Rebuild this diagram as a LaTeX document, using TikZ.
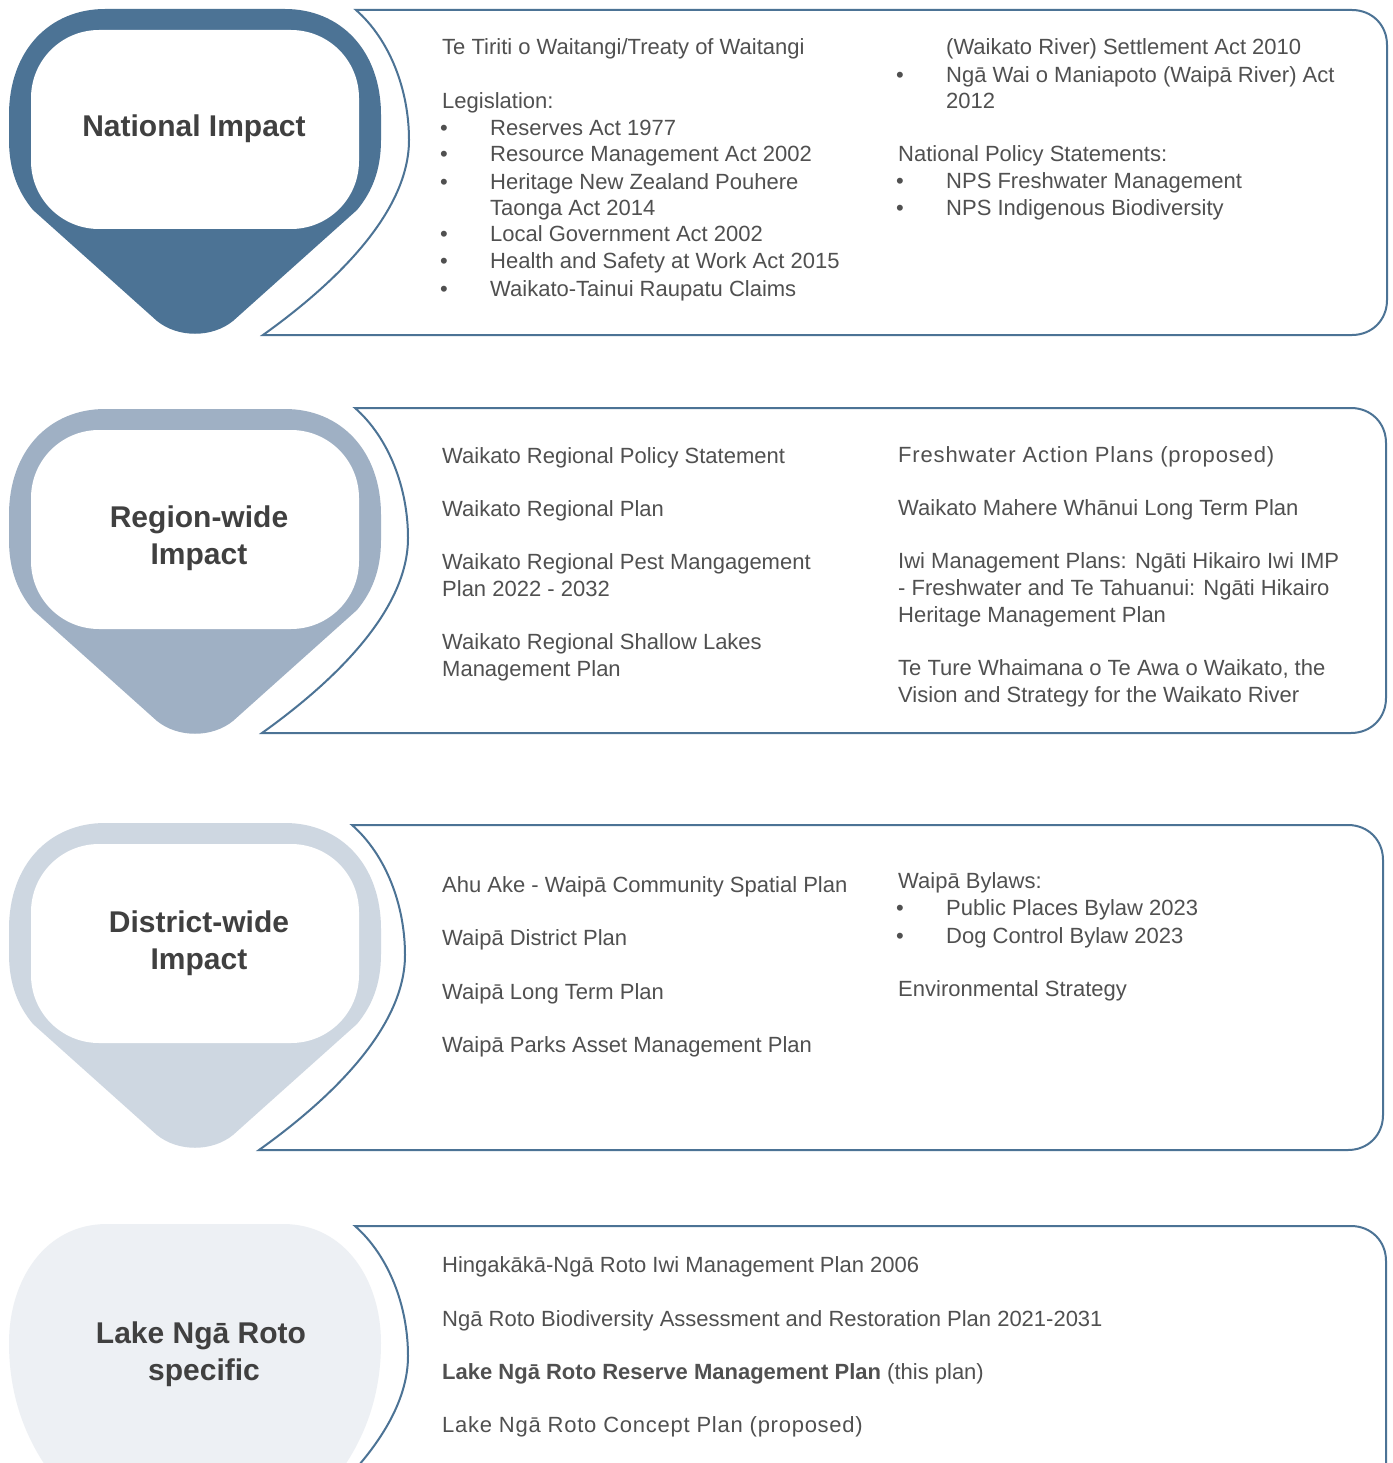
\documentclass[tikz,border=0pt]{standalone}
\usepackage{fontspec}
\setmainfont{Liberation Sans}
\definecolor{cA}{HTML}{4C7395}
\definecolor{cB}{HTML}{9FB0C4}
\definecolor{cC}{HTML}{CED7E1}
\definecolor{cD}{HTML}{EDF0F4}
\definecolor{txt}{HTML}{505050}
\definecolor{ttl}{HTML}{404040}
\newcommand\badgepath{(195,9) -- (285,9) .. controls (340,9) and (381,50) .. (381,115) -- (381,140) .. controls (381,170) and (372,192) .. (357,210) -- (233,321) .. controls (212,338) and (178,338) .. (157,321) -- (33,210) .. controls (18,192) and (9,170) .. (9,140) -- (9,115) .. controls (9,50) and (50,9) .. (105,9) -- cycle}
\newcommand\framepath{(356,10) -- (1352,10) .. controls (1372,10) and (1387,25) .. (1387,45) -- (1387,300) .. controls (1387,320) and (1372,335) .. (1352,335) -- (263,335) .. controls (340,280) and (409,210) .. (409,140) .. controls (409,90) and (390,40) .. (356,10) -- cycle}
\tikzset{
  body/.style={anchor=base west, inner sep=0pt, text=txt, font=\fontsize{22}{26}\selectfont},
  ttlnode/.style={anchor=base, inner sep=0pt, text=ttl, font=\fontsize{30}{36}\selectfont\bfseries},
  framestyle/.style={draw=cA, line width=2pt, fill=white},
  innerwhite/.style={fill=white, rounded corners=68pt}
}
\begin{document}
\begin{tikzpicture}[x=1pt,y=-1pt]
\useasboundingbox (0,0) rectangle (1392,1463);
\clip (0,0) rectangle (1392,1463);
\fill[white] (0,0) rectangle (1392,1463);
% Row 1
\fill[cA] \badgepath;
\fill[innerwhite] (31,30) rectangle (359,229);
\draw[framestyle] \framepath;
% Row 2
\begin{scope}[shift={(0,400)}]
\fill[cB] \badgepath;
\fill[innerwhite] (31,30) rectangle (359,229);
\end{scope}
\begin{scope}[shift={(-1,398)}]
\draw[framestyle] \framepath;
\end{scope}
% Row 3
\begin{scope}[shift={(0,814)}]
\fill[cC] \badgepath;
\fill[innerwhite] (31,30) rectangle (359,229);
\end{scope}
\begin{scope}[shift={(-4,815)}]
\draw[framestyle] \framepath;
\end{scope}
% Row 4
\fill[cD] (195,1224) -- (283,1224) .. controls (345,1224) and (381,1280) .. (381,1343) .. controls (381,1395) and (365,1435) .. (345,1465) -- (330,1490) -- (60,1490) -- (45,1465) .. controls (25,1435) and (9,1395) .. (9,1343) .. controls (9,1280) and (45,1224) .. (107,1224) -- cycle;
\begin{scope}[shift={(-1,1216)}]
\draw[framestyle] \framepath;
\end{scope}
% Titles
\node[ttlnode] (t1) at (194,137) {National Impact};
\node[ttlnode] (t2a) at (199,527) {Region-wide};
\node[ttlnode] (t2b) at (199,564) {Impact};
\node[ttlnode] (t3a) at (199,932) {District-wide};
\node[ttlnode] (t3b) at (199,969) {Impact};
\node[ttlnode] (t4a) at (201,1343) {Lake Ngā Roto};
\node[ttlnode] (t4b) at (204,1380) {specific};
% Row 1 text, left
\node[body] (a1) at (442,55) {Te Tiriti o Waitangi/Treaty of Waitangi};
\node[body] (a2) at (442,109) {Legislation:};
\node[body] (ab1) at (440,136) {•};
\node[body] (a3) at (490,136) {Reserves Act 1977};
\node[body] (ab2) at (440,162) {•};
\node[body] (a4) at (490,162) {Resource Management Act 2002};
\node[body] (ab3) at (440,190) {•};
\node[body] (a5) at (490,190) {Heritage New Zealand Pouhere};
\node[body] (a6) at (490,216) {Taonga Act 2014};
\node[body] (ab4) at (440,242) {•};
\node[body] (a7) at (490,242) {Local Government Act 2002};
\node[body] (ab5) at (440,269) {•};
\node[body] (a8) at (490,269) {Health and Safety at Work Act 2015};
\node[body] (ab6) at (440,296) {•};
\node[body] (a9) at (490,296) {Waikato-Tainui Raupatu Claims};
% Row 1 text, right
\node[body] (b1) at (946,55) {(Waikato River) Settlement Act 2010};
\node[body] (bb1) at (896,83) {•};
\node[body] (b2) at (946,83) {Ngā Wai o Maniapoto (Waipā River) Act};
\node[body] (b3) at (946,109) {2012};
\node[body] (b4) at (898,162) {National Policy Statements:};
\node[body] (bb2) at (896,189) {•};
\node[body] (b5) at (946,189) {NPS Freshwater Management};
\node[body] (bb3) at (896,216) {•};
\node[body] (b6) at (946,216) {NPS Indigenous Biodiversity};
% Row 2 text
\node[body] (c1) at (442,463) {Waikato Regional Policy Statement};
\node[body] (c2) at (442,516) {Waikato Regional Plan};
\node[body] (c3) at (442,569) {Waikato Regional Pest Mangagement};
\node[body] (c4) at (442,596) {Plan 2022 - 2032};
\node[body] (c5) at (442,649) {Waikato Regional Shallow Lakes};
\node[body] (c6) at (442,676) {Management Plan};
\node[body] (d1) at (898,462) {\addfontfeature{LetterSpace=3.8}Freshwater Action Plans (proposed)};
\node[body] (d2) at (898,515) {Waikato Mahere Whānui Long Term Plan};
\node[body] (d3) at (898,568) {Iwi Management Plans: Ngāti Hikairo Iwi IMP};
\node[body] (d4) at (898,595) {- Freshwater and Te Tahuanui: Ngāti Hikairo};
\node[body] (d5) at (898,622) {Heritage Management Plan};
\node[body] (d6) at (898,675) {Te Ture Whaimana o Te Awa o Waikato, the};
\node[body] (d7) at (898,702) {Vision and Strategy for the Waikato River};
% Row 3 text
\node[body] (e1) at (442,892) {Ahu Ake - Waipā Community Spatial Plan};
\node[body] (e2) at (442,945) {Waipā District Plan};
\node[body] (e3) at (442,999) {Waipā Long Term Plan};
\node[body] (e4) at (442,1052) {Waipā Parks Asset Management Plan};
\node[body] (f1) at (898,888) {Waipā Bylaws:};
\node[body] (fb1) at (896,915) {•};
\node[body] (f2) at (946,915) {Public Places Bylaw 2023};
\node[body] (fb2) at (896,943) {•};
\node[body] (f3) at (946,943) {Dog Control Bylaw 2023};
\node[body] (f4) at (898,996) {Environmental Strategy};
% Row 4 text
\node[body] (g1) at (442,1272) {Hingakākā-Ngā Roto Iwi Management Plan 2006};
\node[body] (g2) at (442,1326) {Ngā Roto Biodiversity Assessment and Restoration Plan 2021-2031};
\node[body] (g3) at (442,1379) {\textbf{Lake Ngā Roto Reserve Management Plan} (this plan)};
\node[body] (g4) at (442,1432) {\addfontfeature{LetterSpace=3.4}Lake Ngā Roto Concept Plan (proposed)};
\end{tikzpicture}
\end{document}
